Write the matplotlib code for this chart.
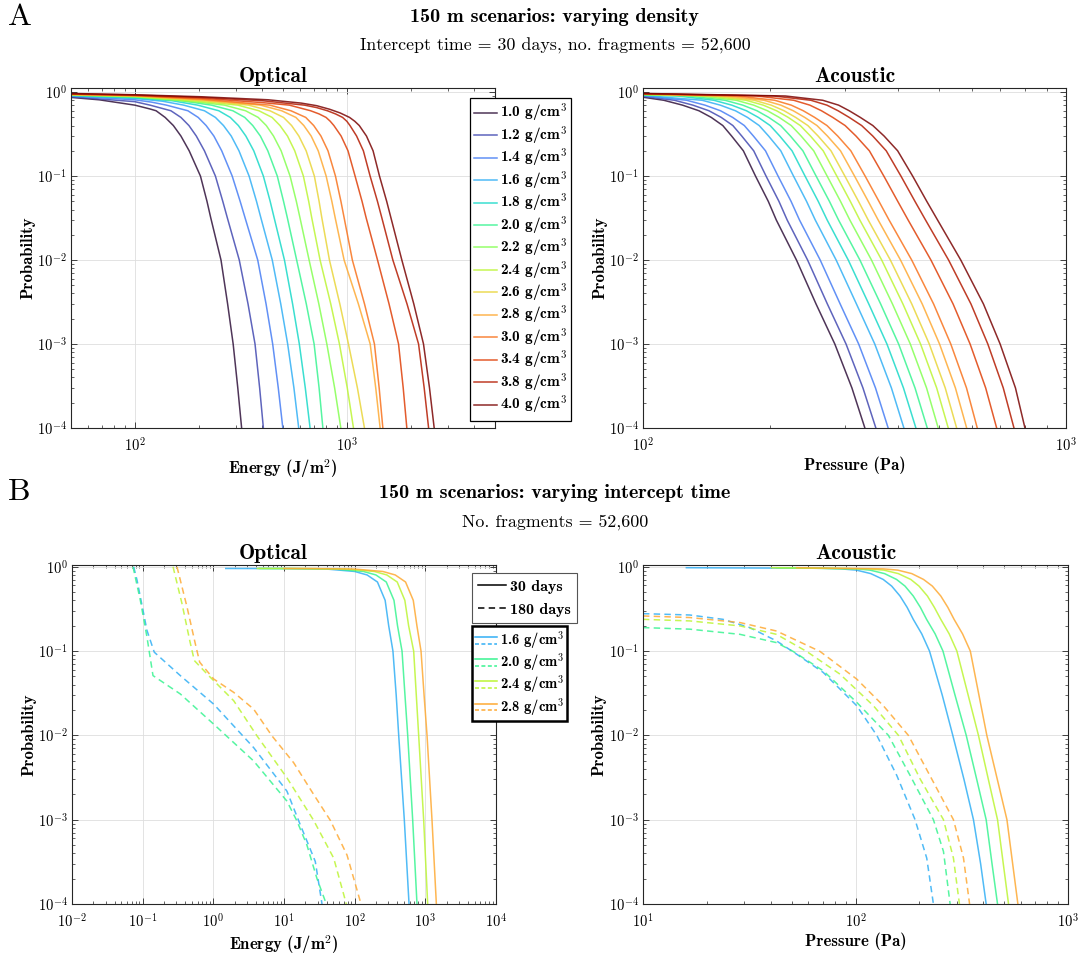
import numpy as np
import matplotlib
matplotlib.use('Agg')
import matplotlib.pyplot as plt
from matplotlib.lines import Line2D
from matplotlib.legend_handler import HandlerBase
from matplotlib.ticker import LogLocator, FixedLocator, FuncFormatter, NullFormatter

plt.rcParams['mathtext.fontset'] = 'cm'
plt.rcParams['axes.unicode_minus'] = False

RM = 'cmr10'
BF = 'cmb10'

densities = ['1.0', '1.2', '1.4', '1.6', '1.8', '2.0', '2.2', '2.4', '2.6', '2.8', '3.0', '3.4', '3.8', '4.0']
b_densities = ['1.6', '2.0', '2.4', '2.8']

# ---- A, optical: energy (J/m^2) vs probability, one list per density
a_opt_energy = [
    [50, 68, 100, 118, 126, 139, 152, 165, 180.5, 204, 219, 228, 255, 274, 291, 306, 319],
    [50, 100, 118, 148, 165, 180, 195, 213, 240, 260, 273, 311, 342, 369, 388, 404],
    [50, 100, 120, 141, 178, 199, 217, 236, 257, 288, 314, 331, 380, 416, 447, 475, 499],
    [50, 100, 135, 170, 213, 240, 262, 285, 310, 346, 375, 393, 445, 488, 526, 563, 593],
    [50, 100, 150, 198, 249, 282, 308, 334, 364, 404, 435, 454, 508, 555, 597, 637, 671],
    [50, 100, 160, 230, 290, 330, 360, 391, 424, 470, 503, 524, 580, 644, 701, 740, 771],
    [50, 100, 206, 265, 333, 382, 417, 451, 490, 540, 578, 601, 664, 738, 805, 876, 937],
    [50, 100, 206, 306, 385, 444, 484, 525, 568, 624, 661, 683, 748, 840, 923, 1005, 1075],
    [50, 100, 206, 344, 434, 503, 549, 594, 643, 703, 740, 762, 828, 927, 1018, 1122, 1211],
    [50, 100, 206, 392, 493, 575, 627, 679, 733, 799, 850, 881, 971, 1134, 1289, 1369, 1436],
    [50, 100, 206, 433, 545, 640, 698, 755, 815, 884, 938, 971, 1062, 1212, 1350, 1421, 1479],
    [50, 100, 206, 400, 536, 675, 740, 798, 835, 869, 940, 1013, 1094, 1180, 1233, 1396, 1582, 1754, 1845, 1919],
    [50, 100, 206, 400, 631, 720, 810, 885, 955, 1000, 1035, 1112, 1197, 1288, 1395, 1462, 1649, 1923, 2180, 2317, 2431],
    [50, 100, 206, 425, 610, 720, 830, 930, 1030, 1090, 1145, 1238, 1330, 1426, 1542, 1614, 1818, 2070, 2300, 2455, 2583],
]
a_opt_prob = [
    [.865, .81, .70, .63, .60, .50, .40, .30, .20, .10, .05, .032, .01, 3e-3, 1e-3, 3e-4, 1e-4],
    [.88, .77, .70, .60, .50, .40, .30, .20, .10, .05, .032, .01, 3e-3, 1e-3, 3e-4, 1e-4],
    [.895, .81, .76, .70, .60, .50, .40, .30, .20, .10, .05, .032, .01, 3e-3, 1e-3, 3e-4, 1e-4],
    [.905, .84, .78, .70, .60, .50, .40, .30, .20, .10, .05, .032, .01, 3e-3, 1e-3, 3e-4, 1e-4],
    [.915, .855, .79, .70, .60, .50, .40, .30, .20, .10, .05, .032, .01, 3e-3, 1e-3, 3e-4, 1e-4],
    [.92, .87, .80, .70, .60, .50, .40, .30, .20, .10, .05, .032, .01, 3e-3, 1e-3, 3e-4, 1e-4],
    [.925, .88, .753, .70, .60, .50, .40, .30, .20, .10, .05, .032, .01, 3e-3, 1e-3, 3e-4, 1e-4],
    [.93, .89, .774, .70, .60, .50, .40, .30, .20, .10, .05, .032, .01, 3e-3, 1e-3, 3e-4, 1e-4],
    [.935, .90, .796, .70, .60, .50, .40, .30, .20, .10, .05, .032, .01, 3e-3, 1e-3, 3e-4, 1e-4],
    [.94, .905, .811, .70, .60, .50, .40, .30, .20, .10, .05, .032, .01, 3e-3, 1e-3, 3e-4, 1e-4],
    [.945, .91, .826, .70, .60, .50, .40, .30, .20, .10, .05, .032, .01, 3e-3, 1e-3, 3e-4, 1e-4],
    [.95, .915, .848, .75, .70, .60, .55, .50, .45, .40, .30, .20, .10, .05, .032, .01, 3e-3, 1e-3, 3e-4, 1e-4],
    [.957, .925, .865, .79, .70, .655, .60, .55, .50, .45, .40, .30, .20, .10, .05, .032, .01, 3e-3, 1e-3, 3e-4, 1e-4],
    [.964, .931, .881, .811, .74, .69, .625, .565, .50, .45, .40, .30, .20, .10, .05, .032, .01, 3e-3, 1e-3, 3e-4, 1e-4],
]

# ---- A, acoustic: pressure (Pa) vs probability
a_ac_pressure = [
    [100, 112, 124, 135.6, 145, 154.4, 162, 172.7, 184.5, 197.8, 206.6, 230.6, 256.5, 284.1, 311.8, 334.6],
    [100, 118.7, 131.2, 143.2, 153.1, 163.1, 171.2, 182.7, 195.4, 209.6, 219.2, 245, 272.8, 302, 331.1, 355.2],
    [100, 126.8, 140.1, 152.5, 162.9, 173.6, 182.4, 194.8, 208.6, 223.9, 234.4, 262.4, 292.5, 323.5, 354.5, 379.8],
    [100, 138, 152.3, 165.4, 176.6, 188.2, 198.1, 211.7, 226.9, 243.6, 255.4, 286.2, 319.6, 353.1, 386.6, 413.8],
    [100, 120.8, 147.1, 162.1, 175.6, 187.4, 199.8, 210.5, 225.1, 241.6, 259.6, 272.5, 305.7, 341.8, 377.3, 412.8, 441.7],
    [100, 128.3, 156.3, 172.1, 186, 198.3, 211.6, 223.1, 238.8, 256.6, 275.9, 289.9, 325.7, 364.6, 402.1, 439.6, 469.9],
    [100, 136.3, 166.2, 182.6, 196.9, 209.9, 224.1, 236.5, 253.3, 272.5, 293.1, 308.3, 346.9, 388.8, 428.5, 468.1, 498.8],
    [100, 143.6, 175.3, 192.4, 206.9, 220.5, 235.4, 248.8, 266.7, 287.2, 309.1, 325.5, 366.7, 411.6, 453.1, 494.6, 526.8],
    [100, 150, 183.3, 200.9, 215.6, 229.6, 245.3, 259.4, 278.3, 300.1, 323.2, 340.7, 384.4, 431.9, 475.1, 518.2, 551.4],
    [100, 158.2, 193.3, 211.7, 226.6, 241.2, 257.8, 272.9, 293, 316.3, 340.8, 359.7, 406.3, 457.2, 502.4, 547.7, 582.3],
    [100, 167.6, 204.9, 224.1, 239.3, 254.6, 272.2, 288.6, 310, 335.1, 361.3, 381.7, 431.8, 486.4, 534.1, 581.8, 616.9],
    [100, 185.5, 227.1, 248, 264.2, 280.9, 300.5, 318.8, 342.9, 371, 400.2, 423.4, 479.4, 540.8, 593.3, 645.8, 685.6],
    [100, 203.6, 249.4, 272.1, 289.2, 307.3, 328.8, 349.3, 375.9, 407.2, 439.5, 465.5, 527.8, 596.1, 653.4, 710.7, 753.4],
    [100, 217, 266, 290, 307.3, 326.4, 349.4, 371.5, 400, 434, 468.7, 497, 564, 638, 698.7, 759.5, 799.8],
]
a_ac_prob = [
    [.87, .80, .70, .60, .50, .40, .30, .20, .10, .05, .03, .01, 3e-3, 1e-3, 3e-4, 1e-4],
    [.89, .80, .70, .60, .50, .40, .30, .20, .10, .05, .03, .01, 3e-3, 1e-3, 3e-4, 1e-4],
    [.905, .80, .70, .60, .50, .40, .30, .20, .10, .05, .03, .01, 3e-3, 1e-3, 3e-4, 1e-4],
    [.915, .80, .70, .60, .50, .40, .30, .20, .10, .05, .03, .01, 3e-3, 1e-3, 3e-4, 1e-4],
    [.925, .90, .80, .70, .60, .50, .40, .30, .20, .10, .05, .03, .01, 3e-3, 1e-3, 3e-4, 1e-4],
    [.93, .90, .80, .70, .60, .50, .40, .30, .20, .10, .05, .03, .01, 3e-3, 1e-3, 3e-4, 1e-4],
    [.935, .90, .80, .70, .60, .50, .40, .30, .20, .10, .05, .03, .01, 3e-3, 1e-3, 3e-4, 1e-4],
    [.94, .90, .80, .70, .60, .50, .40, .30, .20, .10, .05, .03, .01, 3e-3, 1e-3, 3e-4, 1e-4],
    [.945, .90, .80, .70, .60, .50, .40, .30, .20, .10, .05, .03, .01, 3e-3, 1e-3, 3e-4, 1e-4],
    [.95, .90, .80, .70, .60, .50, .40, .30, .20, .10, .05, .03, .01, 3e-3, 1e-3, 3e-4, 1e-4],
    [.953, .90, .80, .70, .60, .50, .40, .30, .20, .10, .05, .03, .01, 3e-3, 1e-3, 3e-4, 1e-4],
    [.957, .90, .80, .70, .60, .50, .40, .30, .20, .10, .05, .03, .01, 3e-3, 1e-3, 3e-4, 1e-4],
    [.96, .90, .80, .70, .60, .50, .40, .30, .20, .10, .05, .03, .01, 3e-3, 1e-3, 3e-4, 1e-4],
    [.965, .90, .80, .70, .60, .50, .40, .30, .20, .10, .05, .03, .01, 3e-3, 1e-3, 3e-4, 1e-4],
]

# ---- B, optical, 30 days (solid) and 180 days (dashed)
b_opt_30_energy = [
    [1.5, 10, 40, 100, 150, 210, 270, 303, 348, 387, 420, 504, 588],
    [4.5, 13, 53, 133, 200, 280, 360, 404, 468, 515, 563, 662, 762],
    [4.2, 19, 76, 190, 285, 400, 513, 580, 684, 745, 805, 947, 1079],
    [10, 25, 100, 250, 375, 525, 675, 760, 869, 960, 1057, 1242, 1432],
]
b_opt_30_prob = [
    [.955, .952, .94, .88, .80, .66, .40, .20, .10, .03, .01, 1e-3, 1e-4],
    [.955, .952, .94, .88, .80, .66, .40, .20, .10, .03, .01, 1e-3, 1e-4],
    [.955, .952, .94, .88, .80, .66, .40, .20, .10, .03, .01, 1e-3, 1e-4],
    [.955, .952, .94, .88, .80, .66, .40, .20, .10, .03, .01, 1e-3, 1e-4],
]
b_opt_180_energy = [
    [.0746, .0832, .1033, .115, .146, .341, 1.01, 3.72, 11.0, 17.0, 27.7, 34.5],
    [.073, .0927, .115, .14, .341, 1.01, 3.72, 11.0, 15.3, 21.1, 29.3, 39.7],
    [.269, .36, .463, .538, .813, 1.94, 4.15, 11.0, 26.3, 50.5, 76.2],
    [.306, .424, .556, .641, 1.01, 1.94, 3.72, 6.76, 13.7, 26.3, 45.3, 78, 123],
]
b_opt_180_prob = [
    [1.0, .694, .278, .176, .097, .0512, .0235, .00716, .00218, 8.7e-4, 3.2e-4, 1e-4],
    [1.0, .40, .147, .0512, .031, .0136, .00497, .00166, 9.6e-4, 5.0e-4, 2.0e-4, 1e-4],
    [1.0, .366, .134, .0773, .0536, .0258, .00986, .00314, 9.8e-4, 3.5e-4, 1e-4],
    [1.0, .334, .122, .0738, .0467, .0324, .0205, .00986, .00474, .00199, 9.8e-4, 3.8e-4, 1e-4],
]

# ---- B, acoustic
b_ac_30_pressure = [
    [16, 70, 85, 101, 118, 135, 148, 162, 175, 187, 205, 223, 256, 287, 324, 359, 388, 412],
    [42.5, 101, 117, 137, 156, 171, 187, 202, 216, 237, 258, 294, 332, 372, 412, 439, 466],
    [40.3, 114, 136, 159, 182, 199, 218, 235, 252, 276, 300, 339, 379, 422, 466, 496, 525],
    [52.9, 135, 158, 184, 209, 230, 252, 272, 291, 319, 347, 381, 415, 465, 516, 549, 581],
]
b_ac_30_prob = [
    [.975, .96, .945, .913, .83, .708, .59, .45, .33, .238, .16, .10, .03, .01, 3e-3, 1e-3, 3e-4, 1e-4],
    [.975, .946, .913, .83, .708, .59, .45, .33, .238, .16, .10, .03, .01, 3e-3, 1e-3, 3e-4, 1e-4],
    [.975, .945, .913, .83, .708, .59, .45, .33, .238, .16, .10, .03, .01, 3e-3, 1e-3, 3e-4, 1e-4],
    [.975, .945, .913, .83, .708, .59, .45, .33, .238, .16, .10, .03, .01, 3e-3, 1e-3, 3e-4, 1e-4],
]
b_ac_180_pressure = [
    [10, 16.6, 23.8, 31.8, 42.5, 52.8, 70.5, 101.3, 126, 156.4, 190.7, 216.4, 232.6],
    [10, 16.6, 28.6, 42.5, 50.9, 70.5, 101.3, 142.9, 180.7, 232.6, 259.4, 278.8],
    [10, 16.6, 28.6, 42.5, 58.9, 84.5, 121.4, 159.3, 201.2, 259.4, 289, 308.4],
    [10, 16.6, 28.6, 42.5, 68.1, 101.3, 135.2, 177.4, 232.6, 289, 322.3, 344.2],
]
b_ac_180_prob = [
    [.278, .268, .238, .19, .132, .092, .0558, .0225, .01, .00335, 1e-3, 3.5e-4, 1e-4],
    [.19, .182, .158, .126, .099, .0584, .0247, .01, .00335, 1e-3, 4.2e-4, 1e-4],
    [.238, .228, .199, .158, .099, .0533, .0225, .01, .00306, 1e-3, 3.5e-4, 1e-4],
    [.261, .25, .218, .173, .099, .0466, .0225, .01, .00279, 1e-3, 3.5e-4, 1e-4],
]

cmap = plt.get_cmap('turbo')
colors = [cmap(i / (len(densities) - 1)) for i in range(len(densities))]
b_colors = [colors[densities.index(d)] for d in b_densities]
LW = 1.1
DASH = (0, (4.2, 2.8))

W, H = 1081, 955
fig = plt.figure(figsize=(W / 100, H / 100), dpi=100)


def fig_axes(l, t, r, b):
    return fig.add_axes([l / W, 1 - b / H, (r - l) / W, (b - t) / H])


def dec_label(v, pos):
    return r'$\mathbf{10^{%d}}$' % int(round(np.log10(v)))


def decades(lo, hi):
    return [10.0 ** k for k in range(-6, 7) if lo * 0.999 <= 10.0 ** k <= hi * 1.001]


def style_axis(ax, xlim, ylim, title, xlabel, title_x=0.5):
    ax.set_xscale('log')
    ax.set_yscale('log')
    ax.set_xlim(*xlim)
    ax.set_ylim(*ylim)
    for a, lim in ((ax.xaxis, xlim), (ax.yaxis, ylim)):
        a.set_major_locator(FixedLocator(decades(*lim)))
        a.set_minor_locator(LogLocator(base=10, subs=np.arange(2, 10), numticks=200))
        a.set_major_formatter(FuncFormatter(dec_label))
        a.set_minor_formatter(NullFormatter())
    ax.tick_params(which='both', direction='in', top=True, right=True, color='#262626', labelsize=10.5)
    ax.tick_params(which='major', length=4, width=0.6)
    ax.tick_params(which='minor', length=2.2, width=0.5)
    ax.tick_params(axis='x', which='major', pad=6)
    ax.tick_params(axis='y', which='major', pad=3)
    ax.grid(True, which='major', color='#dedede', lw=0.6)
    ax.set_axisbelow(True)
    for s in ax.spines.values():
        s.set_color('#262626')
        s.set_linewidth(0.8)
    ax.set_title(title, fontfamily=BF, fontsize=15.5, pad=4, x=title_x)
    ax.set_xlabel(xlabel, fontfamily=BF, fontsize=12)
    ax.set_ylabel('Probability', fontfamily=BF, fontsize=12)
    ax.xaxis.set_label_coords(0.5, -0.085)
    ax.yaxis.set_label_coords(-0.085, 0.5)


class PairHandler(HandlerBase):
    # solid over dashed, same colour
    def create_artists(self, legend, orig_handle, xdescent, ydescent, width, height, fontsize, trans):
        c = orig_handle.get_color()
        xs = [-xdescent, width - xdescent]
        top = Line2D(xs, [height * 0.75 - ydescent] * 2, color=c, lw=LW, transform=trans)
        bot = Line2D(xs, [height * 0.1 - ydescent] * 2, color=c, lw=LW, ls=(0, (2.6, 1.6)), transform=trans)
        return [top, bot]


energy_label = r'Energy (J/m$^{\mathbf{2}}$)'

# ---------------- A optical
ax = fig_axes(71, 88, 495, 428)
lines = []
for i, d in enumerate(densities):
    ln, = ax.plot(a_opt_energy[i], a_opt_prob[i], color=colors[i], lw=LW, alpha=0.85,
                  label=r'%s g/cm$^{\mathbf{3}}$' % d)
    lines.append(ln)
style_axis(ax, (50, 5000), (1e-4, 1.12), 'Optical', energy_label, title_x=(273 - 71) / 424)
leg = ax.legend(handles=lines, loc='upper left', bbox_to_anchor=(470 / W, 1 - 98 / H),
                bbox_transform=fig.transFigure, borderaxespad=0, prop=dict(family=BF, size=11),
                frameon=True, fancybox=False, edgecolor='black', framealpha=1,
                handlelength=1.5, handletextpad=0.2, labelspacing=0.02, borderpad=0.28)
leg.get_frame().set_linewidth(0.9)

# ---------------- A acoustic
ax = fig_axes(643, 88, 1066, 428)
for i, d in enumerate(densities):
    ax.plot(a_ac_pressure[i], a_ac_prob[i], color=colors[i], lw=LW, alpha=0.85)
style_axis(ax, (100, 1000), (1e-4, 1.12), 'Acoustic', 'Pressure (Pa)')

# ---------------- B optical
ax = fig_axes(72, 565, 496, 904)
pair_handles = []
for i, d in enumerate(b_densities):
    ln, = ax.plot(b_opt_30_energy[i], b_opt_30_prob[i], color=b_colors[i], lw=LW, alpha=0.85)
    pair_handles.append(ln)
for i, d in enumerate(b_densities):
    ax.plot(b_opt_180_energy[i], b_opt_180_prob[i], color=b_colors[i], lw=LW, alpha=0.85, ls=DASH)
style_axis(ax, (1e-2, 1e4), (1e-4, 1.05), 'Optical', energy_label, title_x=(273 - 72) / 424)

style_handles = [Line2D([], [], color='black', lw=LW), Line2D([], [], color='black', lw=LW, ls=DASH)]
leg1 = ax.legend(style_handles, ['30 days', '180 days'], loc='upper left',
                 bbox_to_anchor=(472 / W, 1 - 573 / H), bbox_transform=fig.transFigure,
                 borderaxespad=0, prop=dict(family=BF, size=11.5), fancybox=False,
                 edgecolor='#555555', framealpha=1, handlelength=1.7, handletextpad=0.25,
                 labelspacing=0.55, borderpad=0.4)
leg1.get_frame().set_linewidth(0.8)
ax.add_artist(leg1)
leg2 = ax.legend(pair_handles, [r'%s g/cm$^{\mathbf{3}}$' % d for d in b_densities],
                 handler_map={Line2D: PairHandler()}, loc='upper left',
                 bbox_to_anchor=(472 / W, 1 - 626 / H), bbox_transform=fig.transFigure,
                 borderaxespad=0, prop=dict(family=BF, size=10.5), fancybox=False,
                 edgecolor='black', framealpha=1, handlelength=1.5, handletextpad=0.2,
                 labelspacing=0.02, borderpad=0.22)
leg2.get_frame().set_linewidth(1.8)

# ---------------- B acoustic
ax = fig_axes(643, 565, 1068, 904)
for i, d in enumerate(b_densities):
    ax.plot(b_ac_30_pressure[i], b_ac_30_prob[i], color=b_colors[i], lw=LW, alpha=0.85)
for i, d in enumerate(b_densities):
    ax.plot(b_ac_180_pressure[i], b_ac_180_prob[i], color=b_colors[i], lw=LW, alpha=0.85, ls=DASH)
style_axis(ax, (10, 1000), (1e-4, 1.05), 'Acoustic', 'Pressure (Pa)')

# ---------------- headings
fig.text(8 / W, 1 - 17 / H, 'A', fontfamily=RM, fontsize=23, ha='left', va='center')
fig.text(555 / W, 1 - 17 / H, '150 m scenarios: varying density', fontfamily=BF, fontsize=14.5,
         ha='center', va='center')
fig.text(555 / W, 1 - 46 / H, 'Intercept time = 30 days, no. fragments = 52,600', fontfamily=RM,
         fontsize=12.9, ha='center', va='center')
fig.text(8 / W, 1 - 492 / H, 'B', fontfamily=RM, fontsize=23, ha='left', va='center')
fig.text(555 / W, 1 - 493 / H, '150 m scenarios: varying intercept time', fontfamily=BF, fontsize=14.5,
         ha='center', va='center')
fig.text(555 / W, 1 - 522 / H, 'No. fragments = 52,600', fontfamily=RM, fontsize=12.9,
         ha='center', va='center')

fig.savefig('out.png', dpi=100)
